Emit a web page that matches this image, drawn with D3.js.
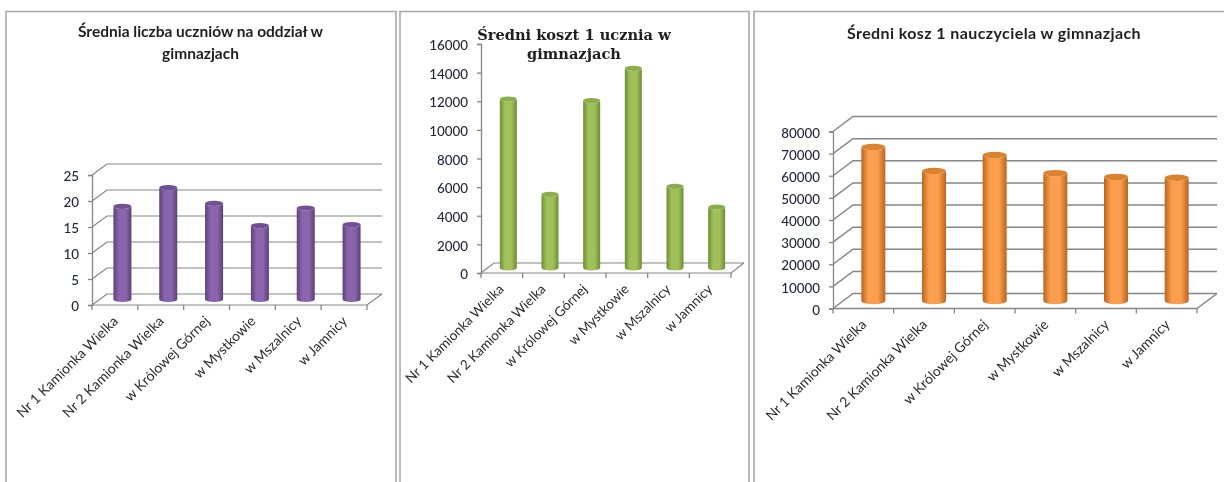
<!DOCTYPE html>
<html><head><meta charset="utf-8">
<script src="https://cdn.jsdelivr.net/npm/d3@7"></script>
<style>
html,body{margin:0;padding:0;background:#fff;overflow:hidden}
svg{display:block;filter:blur(0.5px)}
text{font-family:Lato,"Open Sans",sans-serif}
</style></head><body>
<svg id="c" width="1224" height="482"></svg>
<script>
const categories = ["Nr 1 Kamionka Wielka","Nr 2 Kamionka Wielka","w Królowej Górnej","w Mystkowie","w Mszalnicy","w Jamnicy"];

const uczniowieValues = [17.9, 21.5, 18.5, 14.2, 17.6, 14.4];
const uczniowieTicks = [0,5,10,15,20,25];
const uczniowieTitle = ["Średnia liczba uczniów na oddział w","gimnazjach"];

const kosztUczniaValues = [11800, 5150, 11700, 13950, 5700, 4250];
const kosztUczniaTicks = [0,2000,4000,6000,8000,10000,12000,14000,16000];
const kosztUczniaTitle = ["Średni koszt 1 ucznia w","gimnazjach"];

const kosztNauczycielaValues = [69600, 58800, 66000, 57800, 56100, 55700];
const kosztNauczycielaTicks = [0,10000,20000,30000,40000,50000,60000,70000,80000];
const kosztNauczycielaTitle = ["Średni kosz 1 nauczyciela w gimnazjach"];

const panels = [
 {id:"a",values:uczniowieValues,ticks:uczniowieTicks,title:uczniowieTitle,x:[92,367],y:[305,175],dx:15,dy:11,bw:18,ry:2.6,gw:1.2,labSize:13.9,
  box:[6,396],titleX:200.5,titleY:[37,59],titleFont:"Lato",titleSize:15.5,titleLs:0,grid:true,edge:"#5c4179",mid:"#8a65ad",top:"#6f5193",lab:[4,17]},
 {id:"b",values:kosztUczniaValues,ticks:kosztUczniaTicks,title:kosztUczniaTitle,x:[481,731],y:[273,44],dx:13,dy:10,bw:17,ry:2.6,gw:1.2,labSize:13.5,
  box:[400,749],titleX:574,titleY:[40,59],titleFont:"'DejaVu Serif'",titleSize:14.6,titleLs:0,grid:false,edge:"#6f8c35",mid:"#a0c05a",top:"#8cad4b",lab:[3,17]},
 {id:"c",values:kosztNauczycielaValues,ticks:kosztNauczycielaTicks,title:kosztNauczycielaTitle,x:[833,1197],y:[308.5,131.5],dx:20,dy:15,bw:24,ry:3.2,gw:1.5,labSize:13.8,
  box:[754,null],titleX:994,titleY:[39],titleFont:"Lato",titleSize:16,titleLs:0.4,grid:true,edge:"#b9651f",mid:"#fb9f4e",top:"#d9822f",lab:[4,17]}
];

const svg = d3.select("#c");
const defs = svg.append("defs");
const grey = "#868686";

panels.forEach(p=>{
  const x = d3.scaleBand().domain(categories).range(p.x);
  const y = d3.scaleLinear().domain([0,d3.max(p.ticks)]).range(p.y);
  const g = svg.append("g");
  const [x0,x1] = p.x, y0 = p.y[0];

  // panel frame
  const fr = p.box[1]===null
    ? `M${p.box[0]},482V11.5H1224`
    : `M${p.box[0]},482V11.5H${p.box[1]}V482`;
  g.append("path").attr("d",fr).attr("fill","none").attr("stroke","#a8a8a8").attr("stroke-width",1.6);

  // title
  g.selectAll(".t").data(p.title).join("text")
    .attr("x",p.titleX).attr("y",(d,i)=>p.titleY[i])
    .attr("text-anchor","middle").attr("font-weight",700)
    .style("font-family",p.titleFont).style("letter-spacing",p.titleLs+"px")
    .attr("font-size",p.titleSize).attr("fill","#1f1f1f")
    .text(d=>d);

  // walls and gridlines
  if(p.grid){
    g.selectAll(".g").data(p.ticks).join("path")
      .attr("d",v=>d3.line()([[x0,y(v)],[x0+p.dx,y(v)-p.dy],[x1+p.dx,y(v)-p.dy]]))
      .attr("fill","none").attr("stroke",grey).attr("stroke-width",p.gw);
  } else {
    g.append("path").attr("d",d3.line()([[x0,y0],[x0+p.dx,y0-p.dy],[x1+p.dx,y0-p.dy]]))
      .attr("fill","none").attr("stroke",grey).attr("stroke-width",p.gw);
  }
  // floor edge
  g.append("path").attr("d",d3.line()([[x0,y0],[x1,y0],[x1+p.dx,y0-p.dy]]))
    .attr("fill","none").attr("stroke",grey).attr("stroke-width",p.gw);

  // y axis
  const ay = g.append("g").attr("transform",`translate(${x0},0)`)
    .call(d3.axisLeft(y).tickValues(p.ticks).tickFormat(d3.format("d")).tickSize(4).tickPadding(9));
  ay.selectAll("path,line").attr("stroke",grey).attr("stroke-width",1.3);
  ay.selectAll("text").attr("dy","0.42em").style("font-family","Lato").attr("font-weight",500)
    .attr("font-size",13.4).attr("fill","#1f2438");

  // x axis ticks at band edges
  const edges = categories.map(c=>x(c)).concat([x1]);
  g.selectAll(".xt").data(edges).join("line")
    .attr("x1",d=>d).attr("x2",d=>d).attr("y1",y0).attr("y2",y0+5)
    .attr("stroke",grey).attr("stroke-width",1.3);

  // x axis labels
  const ax = g.append("g").attr("transform",`translate(0,${y0})`)
    .call(d3.axisBottom(x).tickSize(0).tickPadding(0));
  ax.select("path").remove();
  ax.selectAll("text")
    .attr("text-anchor","end").attr("dy",0).attr("y",0)
    .attr("transform",`translate(${p.lab[0]},${p.lab[1]}) rotate(-45)`)
    .style("font-family","Lato").attr("font-size",p.labSize).attr("fill","#2a2a2a");

  // cylinders
  const gid = "grad-"+p.id;
  const gr = defs.append("linearGradient").attr("id",gid).attr("x1",0).attr("x2",1).attr("y1",0).attr("y2",0);
  gr.selectAll("stop").data([[0,p.edge],[0.3,p.mid],[0.68,p.mid],[1,p.edge]]).join("stop")
    .attr("offset",d=>d[0]).attr("stop-color",d=>d[1]);

  const bars = g.selectAll(".b").data(p.values).join("g");
  const cx = (d,i)=>x(categories[i])+x.bandwidth()/2+p.dx/2;
  const baseY = y0-p.dy/2;
  const shift = v=>y(v)-y0;
  bars.append("path").attr("fill",`url(#${gid})`).attr("d",(d,i)=>{
    const c=cx(d,i), r=p.bw/2, t=baseY+shift(d);
    return `M${c-r},${t}V${baseY}A${r},${p.ry} 0 0 0 ${c+r},${baseY}V${t}A${r},${p.ry} 0 0 1 ${c-r},${t}Z`;
  });
  bars.append("ellipse").attr("cx",cx).attr("cy",d=>baseY+shift(d))
    .attr("rx",p.bw/2).attr("ry",p.ry).attr("fill",p.top);
});
</script>
</body></html>
